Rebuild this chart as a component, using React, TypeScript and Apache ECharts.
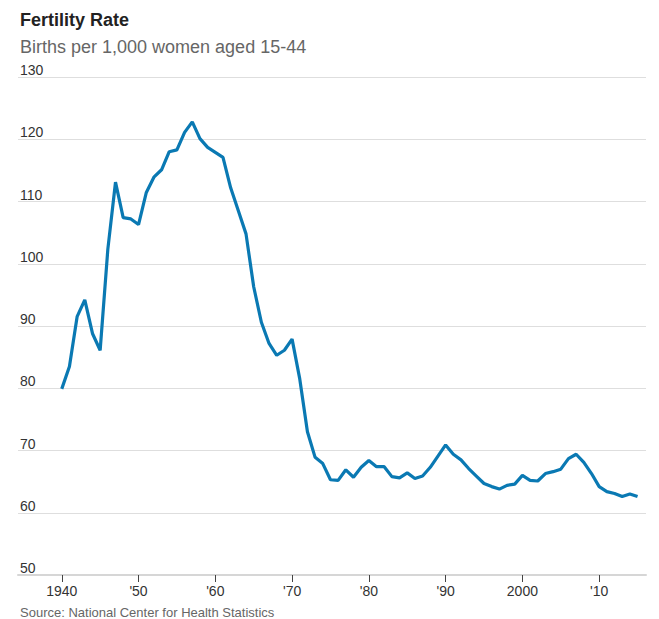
import React, { useEffect, useRef } from "react";
import * as echarts from "echarts";

const years: number[] = [];
for (let y = 1940; y <= 2015; y++) years.push(y);

const fertilityRate = [
  79.9, 83.5, 91.5, 94.2, 88.8, 86.1, 102.3, 113.1, 107.4, 107.2,
  106.3, 111.4, 113.9, 115.1, 118.0, 118.3, 121.1, 122.8, 120.1, 118.7,
  117.9, 117.1, 112.2, 108.5, 104.8, 96.3, 90.6, 87.2, 85.3, 86.1,
  87.9, 81.5, 73.0, 68.9, 67.9, 65.3, 65.2, 66.9, 65.7, 67.3,
  68.4, 67.4, 67.4, 65.8, 65.6, 66.4, 65.5, 65.9, 67.3, 69.1,
  70.9, 69.4, 68.5, 67.1, 65.9, 64.7, 64.2, 63.8, 64.4, 64.6,
  66.0, 65.2, 65.1, 66.3, 66.6, 67.0, 68.7, 69.4, 68.1, 66.3,
  64.2, 63.4, 63.1, 62.6, 63.0, 62.6,
];

const xTickValues = [1940, 1950, 1960, 1970, 1980, 1990, 2000, 2010];
const xTickLabels = ["1940", "'50", "'60", "'70", "'80", "'90", "2000", "'10"];
const yTickValues = [50, 60, 70, 80, 90, 100, 110, 120, 130];

const titleText = "Fertility Rate";
const subtitleText = "Births per 1,000 women aged 15-44";
const sourceText = "Source: National Center for Health Statistics";

export default function App() {
  const ref = useRef<HTMLDivElement>(null);

  useEffect(() => {
    document.body.style.margin = "0";
    if (!ref.current) return;
    const chart = echarts.init(ref.current, null, { renderer: "svg" });
    const font = "Liberation Sans, Arial, sans-serif";
    chart.setOption({
      animation: false,
      backgroundColor: "#fff",
      textStyle: { fontFamily: font },
      graphic: [
        {
          type: "text",
          left: 20,
          top: 11,
          style: { text: titleText, font: `bold 18px ${font}`, fill: "#222" },
        },
        {
          type: "text",
          left: 20,
          top: 38,
          style: { text: subtitleText, font: `18px ${font}`, fill: "#666" },
        },
        {
          type: "text",
          left: 20,
          top: 606,
          style: { text: sourceText, font: `13px ${font}`, fill: "#666" },
        },
      ],
      grid: { left: 18, right: 13, top: 77, bottom: 44, containLabel: false },
      xAxis: {
        type: "value",
        min: 1934.3,
        max: 2016.1,
        splitLine: { show: false },
        axisLine: { show: true, lineStyle: { color: "#d6d6d6", width: 2 } },
        axisTick: {
          show: true,
          customValues: xTickValues,
          length: 7,
          lineStyle: { color: "#444", width: 1 },
        },
        axisLabel: {
          customValues: xTickValues,
          margin: 9,
          fontSize: 14,
          color: "#333",
          fontFamily: font,
          formatter: (v: number) => {
            const i = xTickValues.indexOf(Math.round(v));
            return i >= 0 ? xTickLabels[i] : "";
          },
        },
      },
      yAxis: {
        type: "value",
        min: 50,
        max: 130,
        interval: 10,
        axisLine: { show: false },
        axisTick: { show: false },
        splitLine: { show: true, lineStyle: { color: "#dedede", width: 1 } },
        axisLabel: {
          inside: true,
          verticalAlign: "bottom",
          margin: 2,
          fontSize: 14,
          color: "#333",
          fontFamily: font,
          customValues: yTickValues,
        },
      },
      series: [
        {
          type: "line",
          data: years.map((y, i) => [y, fertilityRate[i]]),
          symbol: "none",
          lineStyle: { color: "#0a79b3", width: 3.2 },
          itemStyle: { color: "#0a79b3" },
        },
      ],
    });
    return () => chart.dispose();
  }, []);

  return <div ref={ref} style={{ width: 659, height: 619 }} />;
}
